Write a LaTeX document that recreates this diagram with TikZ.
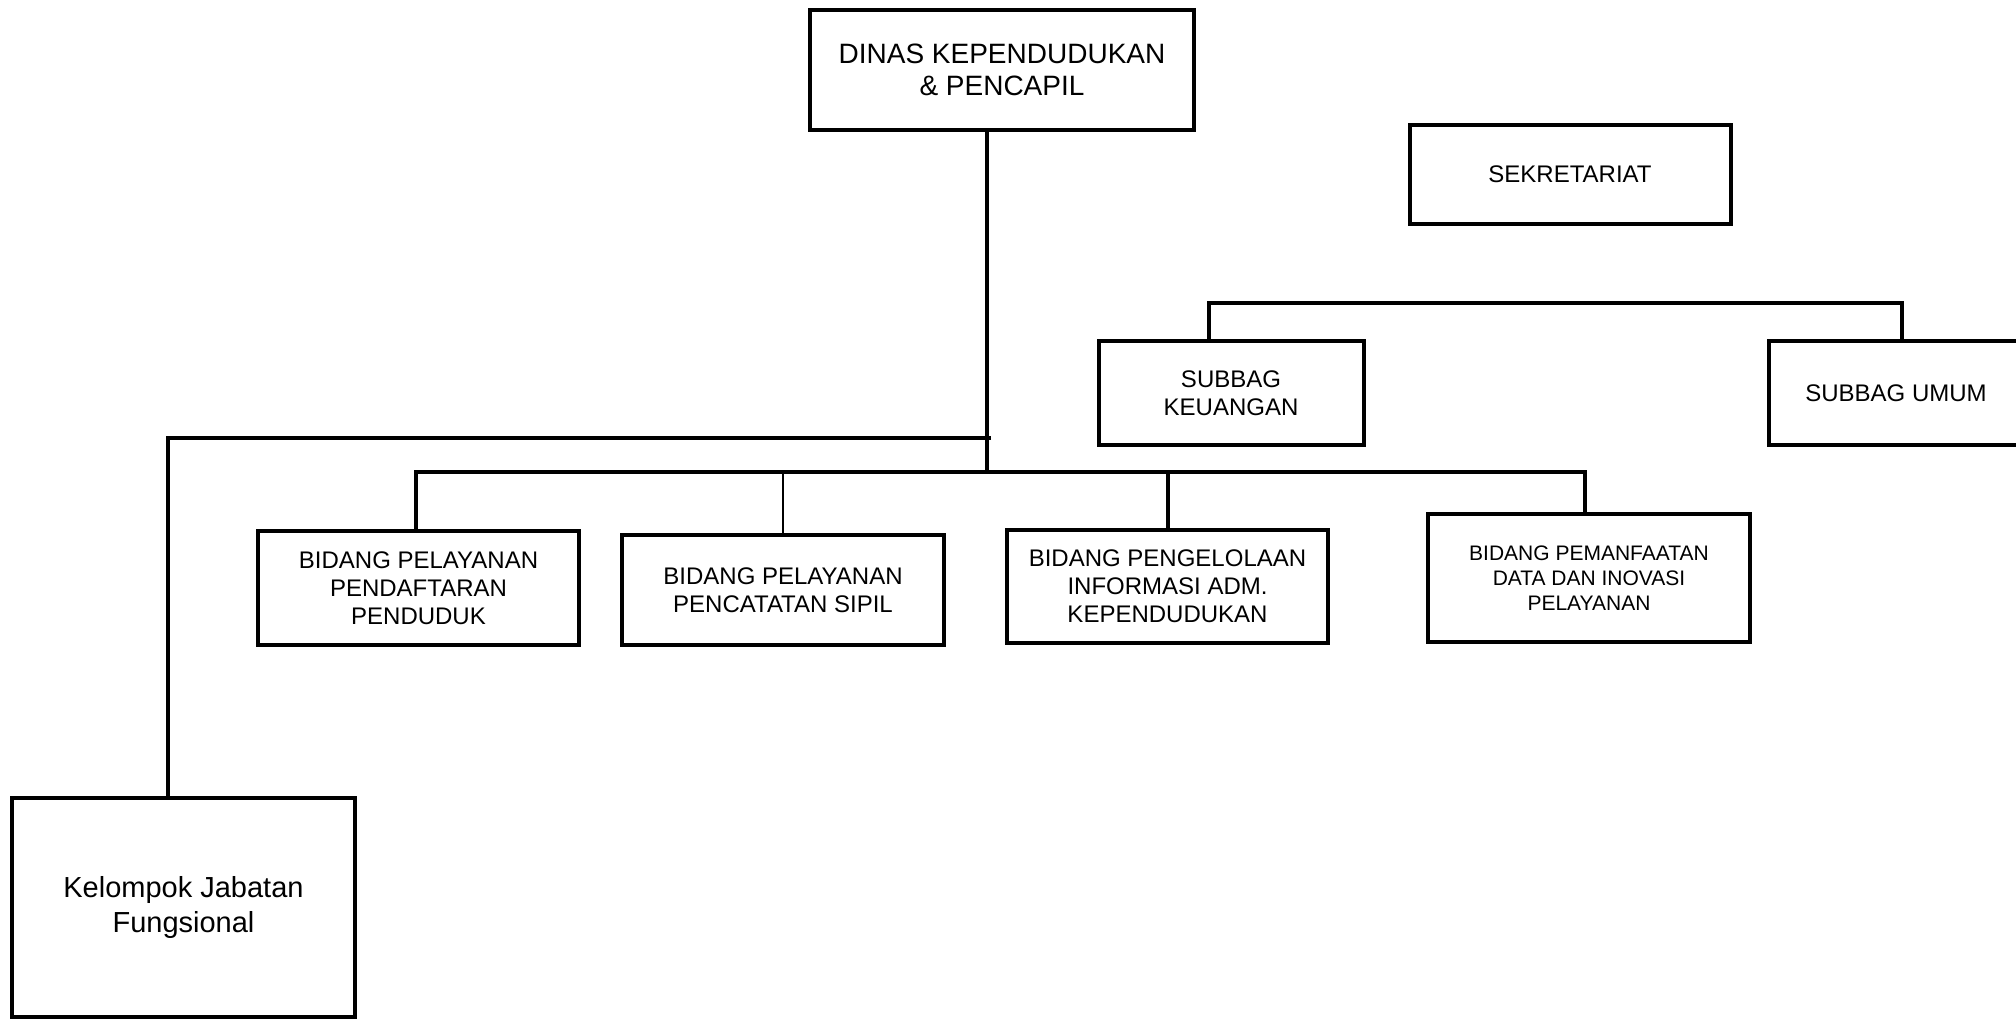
\documentclass[tikz,border=0pt]{standalone}
\usepackage{fontspec}
\setmainfont{Liberation Sans}
\begin{document}
\begin{tikzpicture}[x=1pt, y=-1pt,
    box/.style={draw, line width=4pt, align=center, inner sep=2pt},
    link/.style={line width=4pt},
    big/.style={font=\fontsize{28}{32}\selectfont},
    mid/.style={font=\fontsize{24}{28}\selectfont},
    small/.style={font=\fontsize{21}{25}\selectfont}]
            \useasboundingbox (0,0) rectangle (2016,1021);
            \clip (0,0) rectangle (2016,1021);

            \node[box, big, minimum width=384pt, minimum height=120pt] (dinas) at (1002,70) {DINAS KEPENDUDUKAN\\ \& PENCAPIL};
            \node[box, mid, minimum width=321pt, minimum height=99pt] (sekr) at (1570,174.5) {SEKRETARIAT};
            \node[box, mid, minimum width=265pt, minimum height=104pt] (keu) at (1231,393) {SUBBAG\\ KEUANGAN};
            \node[box, mid, minimum width=255pt, minimum height=104pt] (umum) at (1896,393) {SUBBAG UMUM};

            \node[box, mid, minimum width=321pt, minimum height=114pt] (bpdp) at (418.5,588) {BIDANG PELAYANAN\\ PENDAFTARAN\\ PENDUDUK};
            \node[box, mid, minimum width=322pt, minimum height=110pt] (bpcs) at (783,590) {BIDANG PELAYANAN\\ PENCATATAN SIPIL};
            \node[box, mid, minimum width=321pt, minimum height=113pt] (bpiak) at (1167.5,586.5) {BIDANG PENGELOLAAN\\ INFORMASI ADM.\\ KEPENDUDUKAN};
            \node[box, small, minimum width=322pt, minimum height=128pt] (bpdi) at (1589,578) {BIDANG PEMANFAATAN\\ DATA DAN INOVASI\\ PELAYANAN};

            \node[box, font=\fontsize{29}{35}\selectfont, minimum width=343pt, minimum height=219pt] (jafung) at (183.5,907.5) {Kelompok Jabatan\\ Fungsional};

            \coordinate (bar) at (987,472); % bidang bar
            \coordinate (fbar) at (991,438); % fungsional line
            \coordinate (sbar) at (1209,303); % subbag line

            \draw[link] (dinas.south -| bar) -- (bar);
            \draw[link] ([xshift=-3pt]bpdp.north) |- ([xshift=-4pt]bpdi.north |- bar) -- ([xshift=-4pt]bpdi.north);
            \draw[line width=2.5pt] (bpcs.north) -- (bpcs.north |- bar);
            \draw[link] (bpiak.north) -- (bpiak.north |- bar);

            \draw[link] (fbar) -| ([xshift=-16pt]jafung.north);

            \draw[link] ([xshift=-22pt]keu.north) -- (sbar) -- ([xshift=6pt]sbar -| umum.north) -- ([xshift=6pt]umum.north);
        \end{tikzpicture}
\end{document}
